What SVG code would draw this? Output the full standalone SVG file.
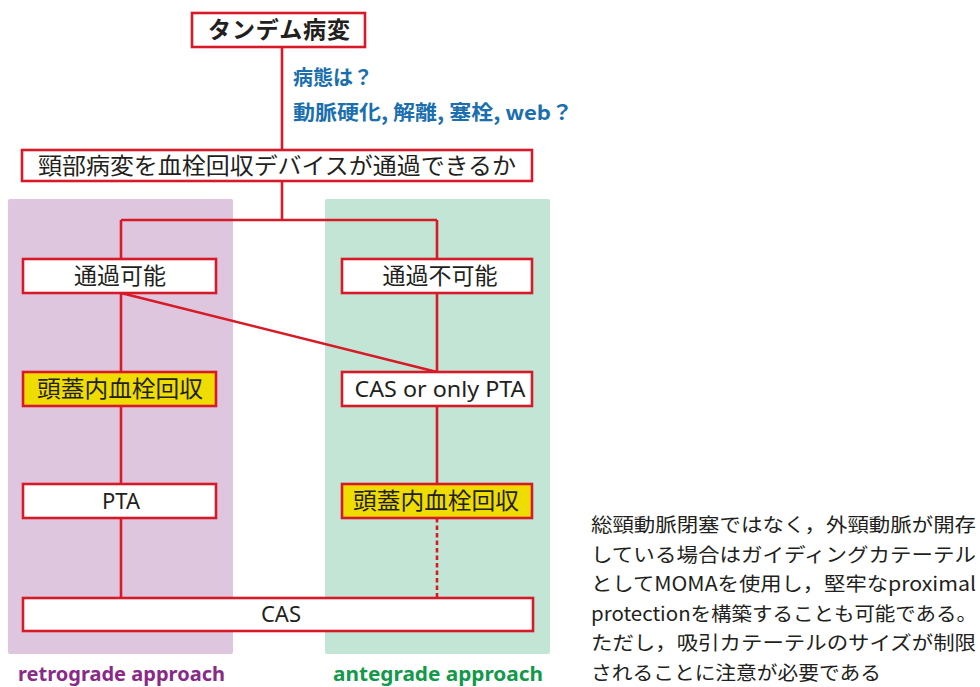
<svg xmlns="http://www.w3.org/2000/svg" width="980" height="687" viewBox="0 0 980 687">
<style>
.box{fill:#fff;stroke:#d71a28;stroke-width:2.6}
.ybox{fill:#efdc00;stroke:#d71a28;stroke-width:2.6}
.ln{fill:none;stroke:#d71a28;stroke-width:2.6}
.dash{stroke-dasharray:4.5 3}
.t{font-family:"Noto Sans CJK JP","Noto Sans",sans-serif;font-size:23px;fill:#231f20;text-anchor:middle}
.tl{font-family:"Noto Sans","Noto Sans CJK JP",sans-serif;font-size:22px;fill:#231f20;text-anchor:middle}
.blue{font-family:"Noto Sans CJK JP","Noto Sans",sans-serif;font-size:20px;font-weight:bold;fill:#1b6fae}
.note{font-family:"Noto Sans CJK JP","Noto Sans",sans-serif;font-size:19.5px;fill:#231f20}
.lab{font-family:"Noto Sans","Open Sans",sans-serif;font-size:20px;font-weight:bold}
</style>
<rect x="8" y="199" width="225" height="455" rx="2" fill="#dfc6df"/>
<rect x="325" y="199" width="225" height="455" rx="2" fill="#c2e5d5"/>
<g id="connectors">
<path class="ln" d="M282 47V150M282 181V220M121 220H437M121 220V259M437 220V259M121 293V372M121 293L437 372M437 293V372M121 406V484M437 406V484M121 518V598"/>
<path class="ln dash" d="M437 518V598"/>
</g>
<g id="n-tandem"><rect class="box" x="192" y="13" width="173" height="34"/><text class="t" x="279" y="38" font-weight="bold" font-size="22" textLength="142" lengthAdjust="spacing">タンデム病変</text></g>
<g id="q-text"><text class="blue" x="293" y="85">病態は？</text><text class="blue" x="293" y="120" textLength="280" lengthAdjust="spacingAndGlyphs">動脈硬化, 解離, 塞栓, web？</text></g>
<g id="n-pass"><rect class="box" x="22" y="150" width="510" height="31"/><text class="t" x="277" y="174" font-size="22" textLength="478" lengthAdjust="spacingAndGlyphs">頸部病変を血栓回収デバイスが通過できるか</text></g>
<g id="n-ok"><rect class="box" x="23" y="259" width="193" height="34"/><text class="t" x="120" y="284">通過可能</text></g>
<g id="n-ng"><rect class="box" x="342" y="259" width="190" height="34"/><text class="t" x="440" y="284">通過不可能</text></g>
<g id="n-ich1"><rect class="ybox" x="23" y="372" width="193" height="34"/><text class="t" x="120" y="397" textLength="166" lengthAdjust="spacingAndGlyphs">頭蓋内血栓回収</text></g>
<g id="n-casor"><rect class="box" x="342" y="372" width="190" height="34"/><text class="tl" x="440" y="397" textLength="171" lengthAdjust="spacingAndGlyphs">CAS or only PTA</text></g>
<g id="n-pta"><rect class="box" x="23" y="484" width="193" height="34"/><text class="tl" x="121" y="509">PTA</text></g>
<g id="n-ich2"><rect class="ybox" x="342" y="484" width="190" height="34"/><text class="t" x="436" y="509" textLength="166" lengthAdjust="spacingAndGlyphs">頭蓋内血栓回収</text></g>
<g id="n-cas"><rect class="box" x="23" y="598" width="510" height="33"/><text class="tl" x="281" y="622">CAS</text></g>
<text class="lab" x="18" y="681" fill="#8a2a88" textLength="207" lengthAdjust="spacingAndGlyphs">retrograde approach</text>
<text class="lab" x="333" y="681" fill="#12994a" textLength="210" lengthAdjust="spacingAndGlyphs">antegrade approach</text>
<g id="note">
<text class="note" x="591" y="532" textLength="385" lengthAdjust="spacingAndGlyphs">総頸動脈閉塞ではなく，外頸動脈が開存</text>
<text class="note" x="591" y="562" textLength="385" lengthAdjust="spacingAndGlyphs">している場合はガイディングカテーテル</text>
<text class="note" x="591" y="591" textLength="385" lengthAdjust="spacingAndGlyphs">としてMOMAを使用し，堅牢なproximal</text>
<text class="note" x="591" y="621" textLength="386" lengthAdjust="spacingAndGlyphs">protectionを構築することも可能である。</text>
<text class="note" x="591" y="650" textLength="385" lengthAdjust="spacingAndGlyphs">ただし，吸引カテーテルのサイズが制限</text>
<text class="note" x="591" y="680" textLength="290" lengthAdjust="spacingAndGlyphs">されることに注意が必要である</text>
</g>
</svg>
